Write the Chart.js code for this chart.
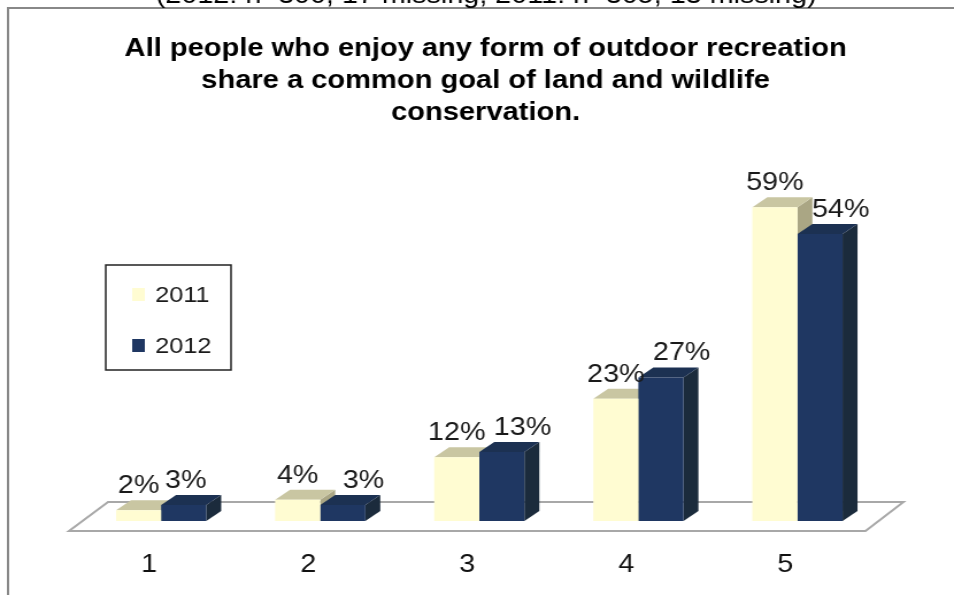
<!DOCTYPE html>
<html>
<head>
<meta charset="utf-8">
<script src="https://cdn.jsdelivr.net/npm/chart.js@4/dist/chart.umd.min.js"></script>
<style>
  html, body { margin: 0; padding: 0; background: #fff; }
</style>
</head>
<body>
<!-- the original picture is stretched sideways, so the canvas is drawn narrower and scaled up -->
<canvas id="chart" width="830" height="595" style="width:954px;height:595px"></canvas>
<script>
const categories = ["1", "2", "3", "4", "5"];
const seriesNames = ["2011", "2012"];
const values2011 = [2, 4, 12, 23, 59];
const values2012 = [3, 3, 13, 27, 54];
const titleLines = [
  "All people who enjoy any form of outdoor recreation",
  "share a common goal of land and wildlife",
  "conservation.",
];
const noteText = "(2012: n=300, 17 missing; 2011: n=305, 13 missing)";

const FONT = '"Liberation Sans", Arial, sans-serif';
const DX = 13;   // depth of the 3d bars
const DY = -10;

function poly(ctx, pts, color) {
  ctx.beginPath();
  ctx.moveTo(pts[0][0], pts[0][1]);
  for (let i = 1; i < pts.length; i++) ctx.lineTo(pts[i][0], pts[i][1]);
  ctx.closePath();
  ctx.fillStyle = color;
  ctx.fill();
}

// floor, side and top faces of the bars (fronts are drawn by chart.js)
const bar3dPlugin = {
  id: "bar3d",
  beforeDatasetsDraw(chart) {
    const { ctx, chartArea: { left, right, bottom } } = chart;
    ctx.save();
    ctx.beginPath();
    ctx.moveTo(left - 11, bottom + 10);
    ctx.lineTo(left + 23, bottom - 19);
    ctx.lineTo(right + 23, bottom - 19);
    ctx.lineTo(right - 10, bottom + 10);
    ctx.closePath();
    ctx.fillStyle = "#fff";
    ctx.fill();
    ctx.strokeStyle = "#a8a8a8";
    ctx.lineWidth = 2;
    ctx.stroke();

    for (let i = 0; i < chart.data.labels.length; i++) {
      chart.data.datasets.forEach((ds, d) => {
        const bar = chart.getDatasetMeta(d).data[i];
        const x0 = bar.x - bar.width / 2;
        const x1 = bar.x + bar.width / 2;
        const top = bar.y;
        const base = bar.base;
        poly(ctx, [[x1, top], [x1 + DX, top + DY], [x1 + DX, base + DY], [x1, base]], ds.sideColor);
        poly(ctx, [[x0, top], [x0 + DX, top + DY], [x1 + DX, top + DY], [x1, top]], ds.topColor);
      });
    }
    ctx.restore();
  },
  afterDatasetsDraw(chart) {
    const { ctx } = chart;
    ctx.save();
    ctx.font = "25px " + FONT;
    ctx.fillStyle = "#1a1a1a";
    ctx.textAlign = "center";
    ctx.textBaseline = "alphabetic";
    chart.data.datasets.forEach((ds, d) => {
      chart.getDatasetMeta(d).data.forEach((bar, i) => {
        const shift = i === 0 ? ds.labelShift * 0.1 : ds.labelShift;
        ctx.fillText(ds.data[i] + "%", bar.x + shift, bar.y - 17);
      });
    });
    ctx.restore();
  },
  afterDraw(chart) {
    const { ctx } = chart;
    ctx.save();
    // frame
    ctx.strokeStyle = "#888";
    ctx.lineWidth = 2;
    ctx.beginPath();
    ctx.moveTo(7, 600);
    ctx.lineTo(7, 8);
    ctx.lineTo(840, 8);
    ctx.stroke();

    ctx.fillStyle = "#000";
    ctx.textAlign = "center";
    ctx.font = "25px " + FONT;
    ctx.fillText(noteText, 423, 3);

    ctx.font = "bold 25.3px " + FONT;
    titleLines.forEach((line, i) => ctx.fillText(line, 422.5, 56 + i * 32));

    // legend
    ctx.strokeStyle = "#222";
    ctx.lineWidth = 1.5;
    ctx.strokeRect(92, 265, 109, 105);
    ctx.textAlign = "left";
    ctx.font = "22px " + FONT;
    chart.data.datasets.forEach((ds, d) => {
      const y = 302 + d * 51;
      ctx.fillStyle = ds.backgroundColor;
      ctx.fillRect(115, y - 14, 11, 13);
      ctx.fillStyle = "#1a1a1a";
      ctx.fillText(ds.label, 135, y);
    });
    ctx.restore();
  },
};

new Chart(document.getElementById("chart"), {
  type: "bar",
  data: {
    labels: categories,
    datasets: [
      {
        label: seriesNames[0],
        data: values2011,
        backgroundColor: "#fffcd2",
        topColor: "#c9c6a2",
        sideColor: "#aaa684",
        labelShift: 0,
      },
      {
        label: seriesNames[1],
        data: values2012,
        backgroundColor: "#1f3762",
        topColor: "#1c3152",
        sideColor: "#1b2b3c",
        labelShift: 18,
      },
    ],
  },
  options: {
    responsive: false,
    animation: false,
    events: [],
    layout: {
      padding: { top: 202, bottom: -14, left: 71, right: 67 },
    },
    datasets: {
      bar: {
        categoryPercentage: 0.567,
        barPercentage: 1.0,
        borderWidth: 0,
      },
    },
    scales: {
      x: {
        grid: { display: false, drawTicks: false },
        border: { display: false },
        ticks: {
          color: "#111",
          font: { family: FONT, size: 25 },
          padding: 29,
          labelOffset: -10.5,
        },
      },
      y: {
        display: false,
        min: 0,
        max: 60,
      },
    },
    plugins: {
      legend: { display: false },
      tooltip: { enabled: false },
      title: { display: false },
    },
  },
  plugins: [bar3dPlugin],
});
</script>
</body>
</html>
